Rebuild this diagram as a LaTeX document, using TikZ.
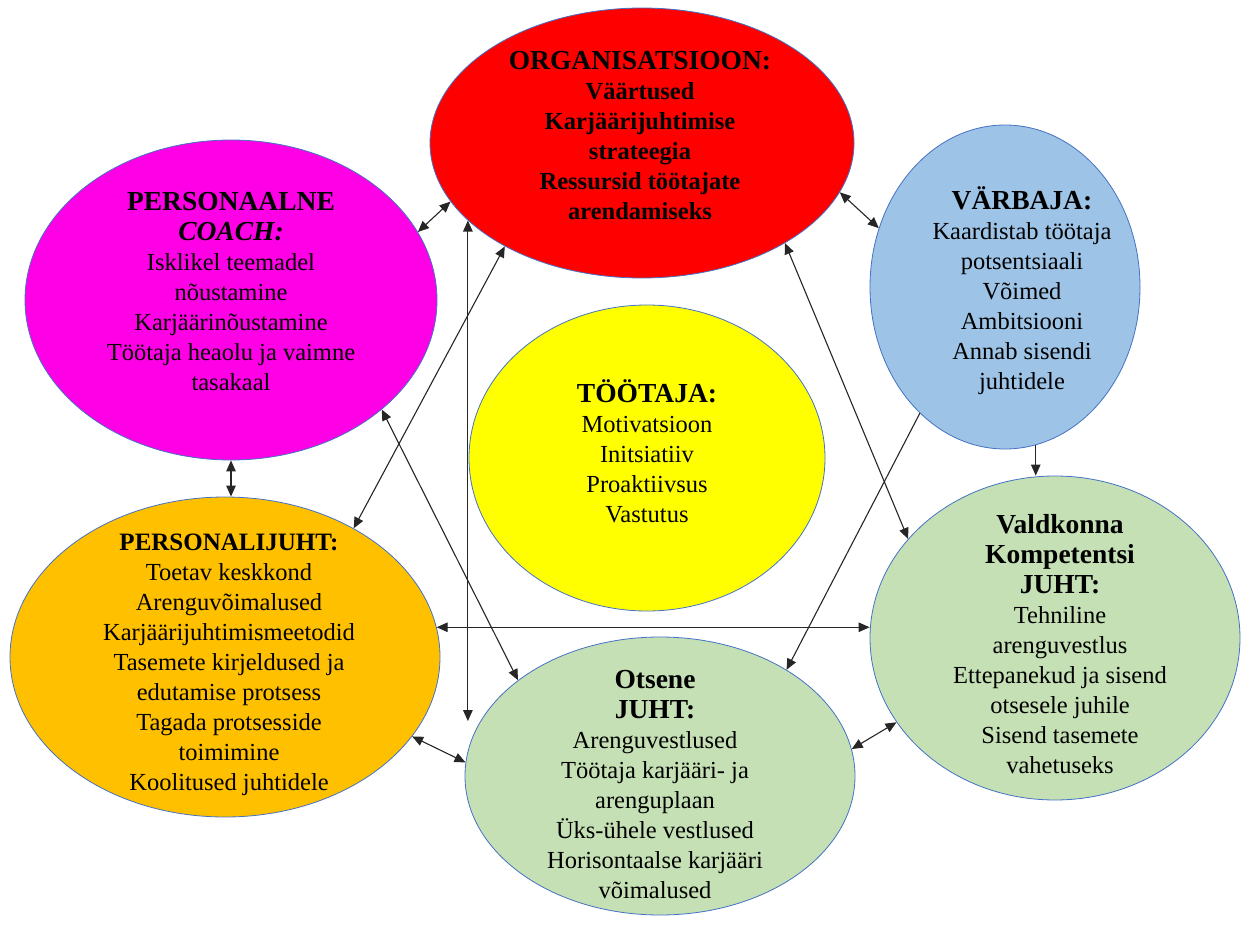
\documentclass[tikz,border=0pt]{standalone}
\usepackage{fontspec}
\setmainfont{Liberation Serif}
\usetikzlibrary{shapes.geometric,arrows.meta,positioning}
\definecolor{orgred}{RGB}{255,0,0}
\definecolor{coachpink}{RGB}{255,0,230}
\definecolor{recblue}{RGB}{157,195,230}
\definecolor{empyellow}{RGB}{255,255,0}
\definecolor{hrorange}{RGB}{255,192,0}
\definecolor{leadgreen}{RGB}{197,224,180}
\definecolor{rim}{RGB}{68,114,196}
\tikzset{
  bubble/.style={ellipse,draw=rim,line width=0.8pt,inner sep=0pt},
  blurb/.style={align=center,inner sep=0pt,font=\fontsize{24.5}{30}\selectfont},
  link/.style={draw=black!85,line width=1.1pt,{Triangle[length=11pt,width=9.5pt]}-{Triangle[length=11pt,width=9.5pt]}},
  onelink/.style={draw=black!85,line width=1.1pt,-{Triangle[length=11pt,width=9.5pt]}},
}
\newcommand{\headline}[1]{{\fontsize{27.5}{30}\selectfont\bfseries #1}}

\begin{document}
\begin{tikzpicture}[x=1pt,y=-1pt]
\useasboundingbox (0,0) rectangle (1245,926);

% bubbles
\node[bubble,fill=orgred,minimum width=424pt,minimum height=270pt] (org) at (642,143) {};
\node[bubble,fill=coachpink,minimum width=412pt,minimum height=320pt] (coach) at (231,300) {};
\node[bubble,fill=recblue,minimum width=270pt,minimum height=324pt] (varbaja) at (1005,287) {};
\node[bubble,fill=empyellow,minimum width=356pt,minimum height=306pt] (tootaja) at (647,458) {};
\node[bubble,fill=hrorange,minimum width=430pt,minimum height=320pt] (personal) at (225,657) {};
\node[bubble,fill=leadgreen,minimum width=390pt,minimum height=278pt] (otsene) at (660,776) {};
\node[bubble,fill=leadgreen,minimum width=370pt,minimum height=324pt] (valdkond) at (1055,638) {};

% texts
\node[blurb] (org-txt) at (640,136) {\headline{ORGANISATSIOON:}\\
  \textbf{Väärtused}\\ \textbf{Karjäärijuhtimise}\\ \textbf{strateegia}\\
  \textbf{Ressursid töötajate}\\ \textbf{arendamiseks}};
\node[blurb] (coach-txt) at (231,292) {\headline{PERSONAALNE}\\ \headline{\itshape COACH:}\\
  Isklikel teemadel\\ nõustamine\\ Karjäärinõustamine\\ Töötaja heaolu ja vaimne\\ tasakaal};
\node[blurb] (varbaja-txt) at (1022,291) {\headline{VÄRBAJA:}\\ Kaardistab töötaja\\ potsentsiaali\\
  Võimed\\ Ambitsiooni\\ Annab sisendi\\ juhtidele};
\node[blurb] (tootaja-txt) at (647,451) {\headline{TÖÖTAJA:}\\ Motivatsioon\\ Initsiatiiv\\
  Proaktiivsus\\ Vastutus};
\node[blurb] (personal-txt) at (229,665) {{\fontsize{25}{30}\selectfont\bfseries PERSONALIJUHT:}\\ Toetav keskkond\\
  Arenguvõimalused\\ Karjäärijuhtimismeetodid\\ Tasemete kirjeldused ja\\ edutamise protsess\\
  Tagada protsesside\\ toimimine\\ Koolitused juhtidele};
\node[blurb] (otsene-txt) at (655,785) {\headline{Otsene}\\ \headline{JUHT:}\\ Arenguvestlused\\
  Töötaja karjääri- ja\\ arenguplaan\\ Üks-ühele vestlused\\ Horisontaalse karjääri\\ võimalused};
\node[blurb] (valdkond-txt) at (1060,644) {\headline{Valdkonna}\\ \headline{Kompetentsi}\\ \headline{JUHT:}\\
  Tehniline\\ arenguvestlus\\ Ettepanekud ja sisend\\ otsesele juhile\\ Sisend tasemete\\ vahetuseks};

% links
\draw[link] (org.197) -- (coach.20);
\draw[link] (org.204) -- (org.204 |- otsene.163);
\draw[link] (org.217) -- (personal.45);
\draw[link] (org.346) -- (varbaja.155);
\draw[link] (org.325) -- (valdkond.146);
\draw[link] (coach.south) -- (coach.south |- personal.north);
\draw[link] (coach.324) -- (otsene.146);
\draw[link] (personal.8) -- (personal.8 -| valdkond.west);
\draw[onelink] (varbaja.236) -- (otsene.40);
\draw[onelink] (varbaja.281) -- (varbaja.281 |- valdkond.north);
\draw[link] (personal.337) -- (otsene.176);
\draw[link] (otsene.8) -- (valdkond.208);
\end{tikzpicture}
\end{document}
